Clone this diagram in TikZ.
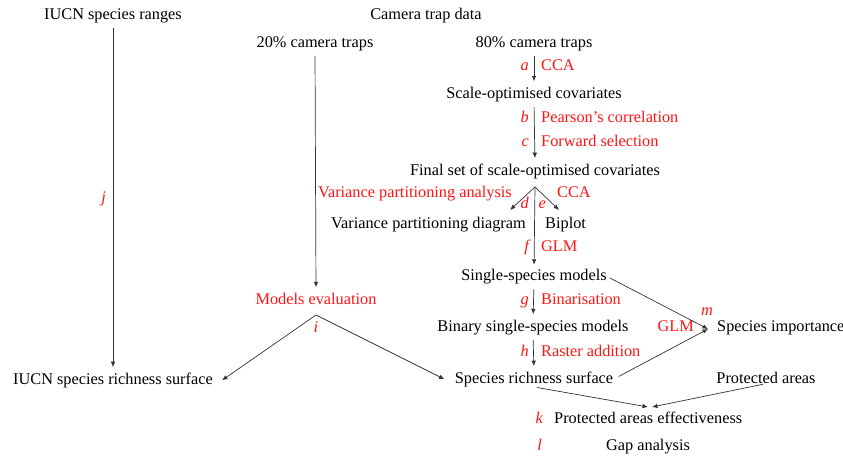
\documentclass[tikz,border=0pt]{standalone}
\usepackage{fontspec}
\setmainfont{Liberation Serif}
\usetikzlibrary{arrows.meta}
\definecolor{stepred}{RGB}{255,20,20}

\tikzset{
	every node/.style={inner sep=0pt, font=\fontsize{16.3}{19}\selectfont},
	stage/.style={anchor=mid},
	method/.style={anchor=mid west, text=stepred},
	letter/.style={anchor=mid east, text=stepred, font=\fontsize{16.3}{19}\selectfont\itshape},
	arr/.style={-{Latex[length=5.5pt,width=4.5pt]}, line width=0.7pt, draw=black!80},
	varr/.style={arr, shorten <=5pt, shorten >=5.5pt},
}

\begin{document}
\begin{tikzpicture}[x=1pt, y=-1pt]
	\useasboundingbox (0,0) rectangle (843,457);
	%\draw[help lines] (0,0) grid[step=50] (843,457);
	% stages
	\node[stage] (ranges) at (113,17) {IUCN species ranges};
	\node[stage] (camera) at (426,17) {Camera trap data};
	\node[stage] (test) at (315,45) {20\% camera traps};
	\node[stage] (train) at (534,45) {80\% camera traps};
	\node[stage] (scale) at (534,96) {Scale-optimised covariates};
	\node[stage] (final) at (535,173) {Final set of scale-optimised covariates};
	\node[anchor=mid east] (vpdiag) at (526,226) {Variance partitioning diagram};
	\node[anchor=mid west] (biplot) at (545,226) {Biplot};
	\node[stage] (single) at (534,278) {Single-species models};
	\node[stage] (binary) at (533,329) {Binary single-species models};
	\node[stage] (rich) at (534,381) {Species richness surface};
	\node[stage] (iucnrich) at (113,382) {IUCN species richness surface};
	\node[anchor=mid west] (imp) at (717,329) {Species importance};
	\node[stage] (pa) at (766,381) {Protected areas};
	\node[anchor=mid west] (paeff) at (554,421) {Protected areas effectiveness};
	\node[stage] (gap) at (648,448) {Gap analysis};
	% methods
	\node[letter] (la) at (529,68) {a};
	\node[method] (cca) at (541,68) {CCA};
	\node[letter] (lb) at (529,120) {b};
	\node[method] (pearson) at (541,120) {Pearson’s correlation};
	\node[letter] (lc) at (529,144) {c};
	\node[method] (fwd) at (541,144) {Forward selection};
	\node[anchor=mid east, text=stepred] (vpa) at (512,195) {Variance partitioning analysis};
	\node[method] (cca2) at (557,195) {CCA};
	\node[letter] (ld) at (529,206) {d};
	\node[letter] (le) at (546,206) {e};
	\node[letter] (lf) at (529,249) {f};
	\node[method] (glm) at (541,249) {GLM};
	\node[letter] (lg) at (529,302) {g};
	\node[method] (binar) at (541,302) {Binarisation};
	\node[stage, text=stepred] (evalm) at (316,302) {Models evaluation};
	\node[letter, anchor=mid] (li) at (316,330) {i};
	\node[letter] (lh) at (529,354) {h};
	\node[method] (raster) at (541,354) {Raster addition};
	\node[anchor=mid east, text=stepred] (glm2) at (694,329) {GLM};
	\node[letter, anchor=mid] (lm) at (707,313) {m};
	\node[letter] (lj) at (106,200) {j};
	\node[letter] (lk) at (543,421) {k};
	\node[letter] (ll) at (542,448) {l};
	% junctions
	\coordinate (fork) at (535,187);
	\coordinate (dend) at (510,210);
	\coordinate (eend) at (559,210);
	\coordinate (evtop) at (316,315);
	\coordinate (mpt) at (708,329);
	\coordinate (kleft) at (648,407);
	\coordinate (kright) at (652,407);
	% connectors
	\draw[varr] (ranges.south) -- (iucnrich.north);
	\draw[varr] (test.south) -- (evalm.north);
	\draw[varr] (train.south) -- (scale.north);
	\draw[varr] (scale.south) -- (final.north);
	\draw[arr, shorten >=4pt] (fork) -- (single.north);
	\draw[arr] (fork) -- (dend);
	\draw[arr] (fork) -- (eend);
	\draw[varr] (single.south) -- (binary.north);
	\draw[varr] (binary.south) -- (rich.north);
	\draw[arr] (evtop) -- ([xshift=9pt]iucnrich.east);
	\draw[arr] (evtop) -- ([xshift=-10pt]rich.west);
	\draw[arr, shorten <=3pt] (single.east) -- (mpt);
	\draw[arr, shorten <=6pt] (rich.east) -- (mpt);
	\draw[arr, shorten <=3pt] (rich.south) -- (kleft);
	\draw[arr, shorten <=3pt] (pa.south) -- (kright);
\end{tikzpicture}
\end{document}
